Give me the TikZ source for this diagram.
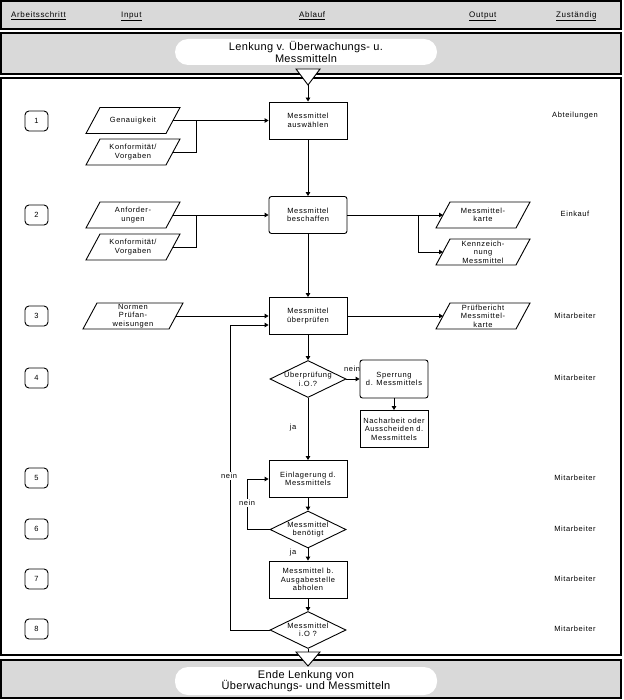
\documentclass[tikz,border=0pt]{standalone}
\usepackage{fontspec}
\setmainfont[LetterSpace=8]{Liberation Sans}
\newfontfamily\titlefont[LetterSpace=3]{Liberation Sans}
\usetikzlibrary{shapes.geometric,arrows.meta,calc}
\newcommand\smf{\fontsize{7.5}{8.5}\selectfont}
\newcommand\hdf{\fontsize{8}{9}\selectfont}
\newcommand\ttlf{\titlefont\fontsize{11}{11.5}\selectfont}
\newcommand\ionode[5]{%
  \node[align=center,inner sep=0pt] (#1) at (#2,#3) {#5};
  \draw[ln] ([shift={(-#4+14,-13)}]#1.center) -- ([shift={(#4,-13)}]#1.center)
     -- ([shift={(#4-14,13)}]#1.center) -- ([shift={(-#4,13)}]#1.center) -- cycle;
  \coordinate (#1-e) at ([shift={(#4-7,0)}]#1.center);
  \coordinate (#1-w) at ([shift={(-#4+7,0)}]#1.center);
}
\tikzset{
  every node/.style={font=\smf},
  ln/.style={line width=0.9pt},
  arr/.style={ln,-{Triangle[length=4pt,width=4.5pt]}},
  band/.style={draw,line width=1.6pt,fill=black!15},
  proc/.style={draw,ln,minimum width=78,minimum height=37,align=center,inner sep=1pt},
  rproc/.style={proc,rounded corners=2.5pt},
  dia/.style={draw,ln,diamond,minimum width=76,minimum height=37,inner sep=0pt},
  stepbox/.style={draw,ln,rounded corners=4pt,minimum width=23,minimum height=20,inner sep=0pt},
  stad/.style={fill=white,rounded corners=13pt,minimum width=262,minimum height=26,align=center,inner sep=0pt,font=\ttlf},
  hd/.style={anchor=base west,font=\hdf,inner sep=0pt},
  lab/.style={inner sep=1pt},
  wlab/.style={fill=white,inner sep=1pt},
  tri/.style={draw,ln,fill=white},
}
\begin{document}
\begin{tikzpicture}[x=1pt,y=-1pt]
\useasboundingbox (0,0) rectangle (623,700);
% bands
\draw[band] (1,1) rectangle (621,29);
\draw[band] (1,33) rectangle (621,74);
\draw[line width=1.6pt,fill=white] (1,78) rectangle (621,655);
\draw[band] (1,660) rectangle (621,698);
% header
\node[hd] (h1) at (11,17.5) {\underline{Arbeitsschritt}};
\node[hd] (h2) at (121,17.5) {\underline{Input}};
\node[hd] (h3) at (299,17.5) {\underline{Ablauf}};
\node[hd] (h4) at (469,17.5) {\underline{Output}};
\node[hd] (h5) at (556,17.5) {\underline{Zuständig}};
% title stadiums
\node[stad] (start) at (306,52) {Lenkung v. Überwachungs- u.\\Messmitteln};
\node[stad,minimum height=28] (ende) at (306,681) {Ende Lenkung von\\Überwachungs- und Messmitteln};
% triangles
\draw[tri] (296,69) -- (320,69) -- (308,85) -- cycle;
\coordinate (tt) at (308,85);
\draw[tri] (296,652) -- (320,652) -- (308,666) -- cycle;
\coordinate (tb) at (308,652);
% steps
\foreach \n/\y in {1/121,2/215,3/316,4/378,5/478,6/529,7/579,8/629}
  \node[stepbox] (s\n) at (36.5,\y) {\n};
% responsibilities
\node[lab] (r1) at (575,116) {Abteilungen};
\node[lab] (r2) at (575,214) {Einkauf};
\foreach \i/\y in {3/316,4/378,5/478,6/529,7/579,8/629}
  \node[lab] (r\i) at (575,\y) {Mitarbeiter};
% process
\node[proc] (aus) at (308,120.5) {Messmittel\\auswählen};
\node[rproc] (besch) at (308,215) {Messmittel\\beschaffen};
\node[proc] (ueber) at (308,316) {Messmittel\\überprüfen};
\node[dia,label={[align=center,inner sep=0pt]center:Überprüfung\\i.O.?}] (d1) at (308,379) {};
\node[rproc,minimum width=68,minimum height=38] (sperr) at (394,379) {Sperrung\\d. Messmittels};
\node[proc,minimum width=68,minimum height=37] (nach) at (394,429) {Nacharbeit oder\\Ausscheiden d.\\Messmittels};
\node[proc] (einl) at (308,479) {Einlagerung d.\\Messmittels};
\node[dia,label={[align=center,inner sep=0pt]center:Messmittel\\benötigt}] (d2) at (308,529.5) {};
\node[proc] (abh) at (308,579.5) {Messmittel b.\\Ausgabestelle\\abholen};
\node[dia,label={[align=center,inner sep=0pt]center:Messmittel\\i.O ?}] (d3) at (308,630) {};
% inputs / outputs
\ionode{gen}{133}{120.5}{47}{Genauigkeit}
\ionode{kon1}{133}{152}{47}{Konformität/\\Vorgaben}
\ionode{anf}{133}{215}{47}{Anforder-\\ungen}
\ionode{kon2}{133}{247}{47}{Konformität/\\Vorgaben}
\ionode{norm}{133}{316}{50}{Normen\\Prüfan-\\weisungen}
\ionode{karte}{483}{215}{47}{Messmittel-\\karte}
\ionode{kenn}{483}{252}{47}{Kennzeich-\\nung\\Messmittel}
\ionode{pruef}{483}{316}{47}{Prüfbericht\\Messmittel-\\karte}
% connectors
\draw[arr] (tt) -- (aus.north);
\draw[arr] (gen-e) -- (aus.west);
\draw[ln] (kon1-e) -| ($(gen-e)!0.25!(aus.west)$);
\draw[arr] (aus.south) -- (besch.north);
\draw[arr] (anf-e) -- (besch.west);
\draw[ln] (kon2-e) -| ($(anf-e)!0.25!(besch.west)$);
\draw[arr] (besch.east) -- (karte-w);
\draw[arr] ($(besch.east)!0.74!(karte-w)$) |- (kenn-w);
\draw[arr] (besch.south) -- (ueber.north);
\draw[arr] (norm-e) -- (ueber.west);
\draw[arr] (ueber.east) -- (pruef-w);
\draw[arr] (ueber.south) -- (d1.north);
\draw[arr] (d1.east) -- (sperr.west);
\node[lab] (n1) at (352,369) {nein};
\draw[arr] (sperr.south) -- (nach.north);
\draw[arr] (d1.south) -- (einl.north);
\node[lab] (j1) at (293,428) {ja};
\draw[arr] (einl.south) -- (d2.north);
\draw[arr] (d2.west) -- ++(-22,0) |- (einl.west);
\node[wlab] (n2) at (247,503) {nein};
\draw[arr] (d2.south) -- (abh.north);
\node[lab] (j2) at (293,553) {ja};
\draw[arr] (abh.south) -- (d3.north);
\draw[arr] (d3.west) -- ++(-39,0) |- ([yshift=-9pt]ueber.west);
\node[wlab] (n3) at (229,476) {nein};
\draw[ln] (d3.south) -- (tb);
\end{tikzpicture}
\end{document}
